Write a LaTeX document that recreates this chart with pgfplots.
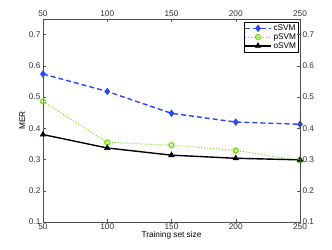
\documentclass[border=0pt]{standalone}
\usepackage{pgfplots}
\pgfplotsset{compat=1.18}
\usepackage{fontspec}
\setmainfont{Liberation Sans}
\definecolor{cblue}{RGB}{40,70,255}
\definecolor{pgreen}{RGB}{110,230,0}
\begin{document}
\begin{tikzpicture}
\useasboundingbox (-43bp,-28bp) rectangle (289bp,222bp);
\pgfplotsset{
  every axis/.append style={
    scale only axis, width=257bp, height=203bp,
    xmin=50, xmax=250, ymin=0.1, ymax=0.75,
    xtick={50,100,150,200,250},
    ytick={0.1,0.2,0.3,0.4,0.5,0.6,0.7},
    tick align=inside,
    major tick length=3bp,
    tick style={gray!70!black, line width=0.4pt},
    axis line style={gray!60!black, line width=0.6pt},
    font=\fontsize{8.3}{9}\selectfont,
    /pgf/number format/assume math mode=true,
    yticklabel style={/pgf/number format/fixed, /pgf/number format/fixed zerofill, /pgf/number format/precision=1},
    tick label style={text=black!80},
  }
}
\begin{axis}[
  at={(0,0)}, anchor=south west,
  xlabel={Training set size}, ylabel={MER},
  xlabel style={yshift=5bp},
  ylabel style={yshift=-3bp},
  xticklabel style={yshift=1.5bp},
  yticklabel style={xshift=1bp},
  legend style={at={(0.995,0.985)}, anchor=north east, font=\fontsize{8.3}{9}\selectfont,
    inner sep=0.5pt, row sep=-2.5pt, legend cell align=left, draw=black},
  legend image code/.code={
    \draw[mark repeat=2,mark phase=2] plot coordinates {(0cm,0cm) (0.45cm,0cm) (0.9cm,0cm)};
  },
]
\addplot[cblue, dash pattern=on 5bp off 3bp, line width=1.4pt, mark=diamond*, mark size=3.3pt, mark options={solid, line width=0.6pt}]
  coordinates {(50,0.574) (100,0.518) (150,0.448) (200,0.420) (250,0.413)};
\addlegendentry{cSVM}
\addplot[pgreen, dotted, line width=1.0pt, mark=o, mark size=2.5pt, mark options={solid, line width=1.3pt}]
  coordinates {(50,0.486) (100,0.355) (150,0.346) (200,0.329) (250,0.297)};
\addlegendentry{pSVM}
\addplot[black, solid, line width=1.4pt, mark=triangle*, mark size=3.2pt, mark options={line width=0.5pt}]
  coordinates {(50,0.380) (100,0.337) (150,0.314) (200,0.304) (250,0.299)};
\addlegendentry{oSVM}
\end{axis}
\begin{axis}[
  at={(0,0)}, anchor=south west,
  axis x line*=top, axis y line*=right,
  xticklabel style={yshift=-1.5bp},
  yticklabel style={xshift=-1bp},
]
\end{axis}
\end{tikzpicture}
\end{document}
